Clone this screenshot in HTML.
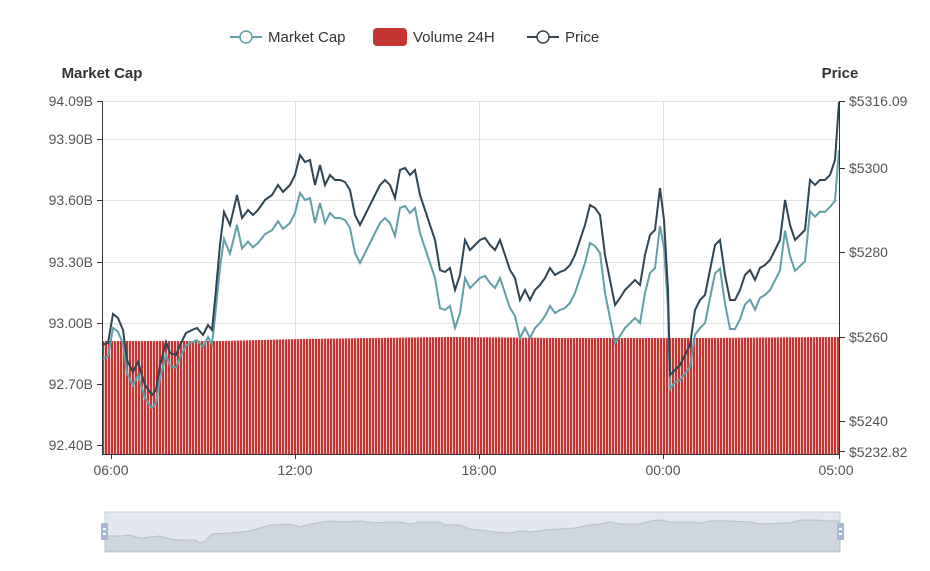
<!DOCTYPE html>
<html><head><meta charset="utf-8"><style>
body{margin:0;background:#fff;}
text{font-family:"Liberation Sans",sans-serif;}
</style></head><body>
<svg id="s" width="930" height="566" xmlns="http://www.w3.org/2000/svg">
<defs>
<pattern id="bp" x="102" y="0" width="3" height="10" patternUnits="userSpaceOnUse">
<rect x="0" y="0" width="2.2" height="10" fill="#c23531"/>
<rect x="2.2" y="0" width="0.8" height="10" fill="#f2c9c8"/>
</pattern>
</defs>
<g stroke="#e0e0e0" stroke-width="1">
<line x1="102" y1="101.5" x2="840" y2="101.5"/>
<line x1="102" y1="139.5" x2="840" y2="139.5"/>
<line x1="102" y1="200.5" x2="840" y2="200.5"/>
<line x1="102" y1="262.5" x2="840" y2="262.5"/>
<line x1="102" y1="323.5" x2="840" y2="323.5"/>
<line x1="102" y1="384.5" x2="840" y2="384.5"/>
<line x1="102" y1="445.5" x2="840" y2="445.5"/>
<line x1="295.5" y1="101" x2="295.5" y2="454"/>
<line x1="479.5" y1="101" x2="479.5" y2="454"/>
<line x1="663.5" y1="101" x2="663.5" y2="454"/>
</g>
<polygon points="102,454 102,341 220,341 300,339 450,337 560,338 700,338 839,337 839,454" fill="url(#bp)"/>
<polyline id="teal" fill="none" stroke="#61a0a8" stroke-width="2"/>
<polyline id="dark" fill="none" stroke="#2f4554" stroke-width="2"/>
<g stroke="#333" stroke-width="1">
<line x1="102.5" y1="101" x2="102.5" y2="454"/>
<line x1="839.5" y1="101" x2="839.5" y2="454"/>
<line x1="102" y1="454.5" x2="840" y2="454.5"/>
<line x1="97" y1="101.5" x2="102" y2="101.5"/><line x1="97" y1="139.5" x2="102" y2="139.5"/><line x1="97" y1="200.5" x2="102" y2="200.5"/><line x1="97" y1="262.5" x2="102" y2="262.5"/><line x1="97" y1="323.5" x2="102" y2="323.5"/><line x1="97" y1="384.5" x2="102" y2="384.5"/><line x1="97" y1="445.5" x2="102" y2="445.5"/>
<line x1="840" y1="101.5" x2="845" y2="101.5"/><line x1="840" y1="168.5" x2="845" y2="168.5"/><line x1="840" y1="252.5" x2="845" y2="252.5"/><line x1="840" y1="337.5" x2="845" y2="337.5"/><line x1="840" y1="421.5" x2="845" y2="421.5"/><line x1="840" y1="451.5" x2="845" y2="451.5"/>
<line x1="111.5" y1="454" x2="111.5" y2="459"/><line x1="295.5" y1="454" x2="295.5" y2="459"/><line x1="479.5" y1="454" x2="479.5" y2="459"/><line x1="663.5" y1="454" x2="663.5" y2="459"/><line x1="839.5" y1="454" x2="839.5" y2="459"/>
</g>
<g font-size="14" fill="#555" text-anchor="end">
<text x="93" y="106">94.09B</text><text x="93" y="144">93.90B</text><text x="93" y="205">93.60B</text><text x="93" y="267">93.30B</text><text x="93" y="328">93.00B</text><text x="93" y="389">92.70B</text><text x="93" y="450">92.40B</text>
</g>
<g font-size="14" fill="#555">
<text x="849" y="106">$5316.09</text><text x="849" y="173">$5300</text><text x="849" y="257">$5280</text><text x="849" y="342">$5260</text><text x="849" y="426">$5240</text><text x="849" y="457">$5232.82</text>
</g>
<g font-size="14" fill="#555" text-anchor="middle">
<text x="111" y="475">06:00</text><text x="295" y="475">12:00</text><text x="479" y="475">18:00</text><text x="663" y="475">00:00</text><text x="836" y="475">05:00</text>
</g>
<text x="102" y="78" font-size="15" font-weight="bold" fill="#333" text-anchor="middle">Market Cap</text>
<text x="840" y="78" font-size="15" font-weight="bold" fill="#333" text-anchor="middle">Price</text>
<g font-size="15" fill="#333">
<line x1="230" y1="37" x2="262" y2="37" stroke="#61a0a8" stroke-width="2"/><circle cx="246" cy="37" r="6" fill="#fff" stroke="#61a0a8" stroke-width="1.5"/>
<text x="268" y="42">Market Cap</text>
<rect x="373" y="28" width="34" height="18" rx="4" fill="#c23531"/>
<text x="413" y="42">Volume 24H</text>
<line x1="527" y1="37" x2="559" y2="37" stroke="#2f4554" stroke-width="2"/><circle cx="543" cy="37" r="6" fill="#fff" stroke="#2f4554" stroke-width="1.5"/>
<text x="565" y="42">Price</text>
</g>
<rect x="105" y="512" width="735" height="40" fill="#e3e8f0" stroke="#c8d0dc"/>
<polygon points="105,551 105,536 120,536 130,535 140,538 160,536 170,539 180,540 195,540 200,543 205,541 212,534 230,533 250,531 270,525 290,524 300,527 310,524 330,521 345,522 360,521 375,523 390,522 400,522 410,524 420,522 440,522 445,525 460,525 470,529 480,530 495,532 510,533 520,531 530,532 545,530 560,529 575,528 590,525 600,524 610,522 620,524 640,524 650,521 660,520 670,522 690,522 700,523 710,521 730,521 750,522 760,524 790,523 800,520 815,520 830,521 840,521 840,551" fill="#cfd6e0" stroke="#b6c0ce" stroke-width="1"/>
<rect x="101" y="523" width="7" height="17" fill="#a8b8d0"/><rect x="837" y="523" width="7" height="17" fill="#a8b8d0"/>
<rect x="103" y="528" width="3" height="2" fill="#fff"/><rect x="103" y="533" width="3" height="2" fill="#fff"/>
<rect x="839" y="528" width="3" height="2" fill="#fff"/><rect x="839" y="533" width="3" height="2" fill="#fff"/>
</svg>
<script>
var P=[[102,345],[108,343],[113,314],[118,318],[123,330],[127,360],[133,372],[138,362],[145,385],[152,395],[156,390],[160,365],[166,342],[170,353],[176,355],[180,345],[186,333],[192,330],[197,328],[203,335],[208,325],[212,330],[215,300],[220,245],[224,212],[230,225],[237,195],[242,218],[248,210],[253,215],[258,210],[265,200],[272,195],[278,185],[283,192],[290,185],[295,175],[300,155],[305,162],[310,160],[315,185],[320,165],[325,185],[330,175],[335,180],[340,180],[345,182],[350,190],[355,215],[360,225],[365,215],[370,205],[375,195],[380,185],[385,180],[390,185],[395,198],[400,170],[405,168],[410,175],[415,170],[420,195],[425,210],[430,225],[435,240],[440,270],[445,272],[450,268],[455,290],[460,275],[465,240],[470,250],[475,245],[480,240],[485,238],[490,245],[495,250],[500,240],[505,255],[510,270],[515,278],[520,300],[525,290],[530,300],[535,290],[540,285],[545,278],[550,268],[555,275],[560,272],[565,270],[570,265],[575,255],[580,240],[585,225],[590,205],[595,208],[600,215],[605,255],[610,280],[615,305],[620,298],[625,290],[630,285],[635,280],[640,285],[645,255],[650,235],[655,230],[660,188],[664,220],[668,290],[670,375],[675,370],[680,365],[685,355],[690,345],[695,310],[700,300],[705,295],[710,270],[715,245],[720,240],[725,275],[730,300],[735,300],[740,290],[745,275],[750,270],[755,280],[760,268],[765,265],[770,260],[775,250],[780,240],[785,200],[790,225],[795,240],[800,235],[805,230],[810,180],[815,185],[820,180],[825,180],[830,175],[835,160],[839,102]];
var O=[[102,14],[210,12],[225,28],[290,38],[660,38],[667,20],[672,10],[700,28],[830,32],[839,48]];
function off(x){for(var i=0;i<O.length-1;i++){if(x<=O[i+1][0]){var t=(x-O[i][0])/(O[i+1][0]-O[i][0]);return O[i][1]+t*(O[i+1][1]-O[i][1]);}}return 48;}
document.getElementById('dark').setAttribute('points',P.map(function(p){return p.join(',');}).join(' '));
document.getElementById('teal').setAttribute('points',P.map(function(p){return p[0]+','+Math.min(452,p[1]+off(p[0]));}).join(' '));
</script>
</body></html>
